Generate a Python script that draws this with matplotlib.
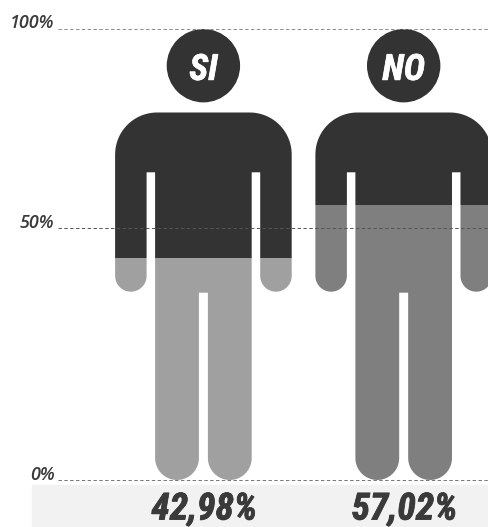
import numpy as np
import matplotlib
matplotlib.use('Agg')
import matplotlib.pyplot as plt
import matplotlib.patheffects as pe
from matplotlib.patches import Rectangle
from matplotlib.path import Path
from matplotlib.transforms import Affine2D

# Data
categories = ['SI', 'NO']
values = [42.98, 57.02]
value_labels = ['42,98%', '57,02%']
tick_values = [0, 50, 100]
tick_labels = ['0%', '50%', '100%']

# The pictogram scale is not linear: percent -> height above the baseline
scale_percent = [0, 42.98, 50, 57.02, 100]
scale_height = [0, 222.5, 252.5, 275, 451.5]

DARK = '#333333'
FILLS = ['#a0a0a0', '#7f7f7f']
TEXT = '#3a3a3a'
LINE_COLORS = ['#777777', '#555555', '#8c8c8c']


def forward(y):
    return np.interp(y, scale_percent, scale_height)


def inverse(y):
    return np.interp(y, scale_height, scale_percent)


def arc(cx, cy, r, start, end, n=24):
    t = np.radians(np.linspace(start, end, n))
    return np.column_stack([cx + r * np.cos(t), cy + r * np.sin(t)])


def person_path():
    # Right half of the body outline, mirrored for the left half
    right = np.vstack([
        [[0, 367.5]],
        arc(46.3, 325.5, 42, 90, 0),
        arc(72.55, 204.05, 15.75, 0, -180),
        [[56.8, 307.7], [48.3, 307.7]],
        arc(26.4, 21.9, 21.9, 0, -180),
        [[4.5, 187.3], [0, 187.3]],
    ])
    left = right[::-1] * [-1, 1]
    body = np.vstack([right, left[1:]])
    codes = [Path.MOVETO] + [Path.LINETO] * (len(body) - 2) + [Path.CLOSEPOLY]
    head = Path.circle((0, 414.3), 36.7)
    return Path.make_compound_path(Path(body, codes), head)


fig = plt.figure(figsize=(4.89, 5.27), dpi=100)
ax = fig.add_axes([58 / 489, 47 / 527, 431 / 489, 451.5 / 527])
ax.set_yscale('function', functions=(forward, inverse))
ax.set_xlim(-0.726, 1.426)
ax.set_ylim(0, 100)

# Grey strip behind the totals
fig.add_artist(Rectangle((32 / 489, 0), 457 / 489, 42 / 527,
                         transform=fig.transFigure, color='#f2f2f2', zorder=-1))

x = np.arange(len(categories))
shape = person_path()
fig.canvas.draw()
for i, (value, fill) in enumerate(zip(values, FILLS)):
    cx, y0 = ax.transData.transform((x[i], 0))
    clip = Affine2D().translate(cx, y0)
    lower = ax.bar(x[i], value, width=0.95, color=fill, zorder=1)
    upper = ax.bar(x[i], 100 - value, bottom=value, width=0.95, color=DARK, zorder=1)
    for bar in list(lower) + list(upper):
        bar.set_clip_path(shape, clip)

# Dashed reference lines run over the figures
ax.set_yticks(tick_values, tick_labels)
ax.minorticks_off()
ax.yaxis.grid(True, linewidth=0.7, linestyle=(0, (3.5, 2.5)), zorder=3)
ax.set_axisbelow(False)
for line, color in zip(ax.get_ygridlines(), LINE_COLORS):
    line.set_clip_on(False)
    line.set_color(color)
ax.xaxis.set_visible(False)
for spine in ax.spines.values():
    spine.set_visible(False)
ax.tick_params(axis='y', length=0, pad=2.5)
for label in ax.get_yticklabels():
    label.set_family('Open Sans')
    label.set_style('italic')
    label.set_weight('semibold')
    label.set_fontsize(13)
    label.set_color(TEXT)
    label.set_verticalalignment('baseline')

for i, name in enumerate(categories):
    head_text = ax.annotate(name, xy=(x[i], 100), xytext=(0, -37), textcoords='offset points',
                            ha='center', va='baseline', color='white', fontsize=26,
                            family='Roboto Condensed', weight='bold', style='italic',
                            zorder=5)
    head_text.set_path_effects([pe.withStroke(linewidth=0.5, foreground='white')])
    total = ax.annotate(value_labels[i], xy=(x[i], 0), xytext=(0.5, -28.5), textcoords='offset points',
                        ha='center', va='baseline', color=TEXT, fontsize=27,
                        family='Roboto Condensed', weight='bold', style='italic',
                        annotation_clip=False)
    total.set_path_effects([pe.withStroke(linewidth=0.6, foreground=TEXT)])

fig.savefig('out.png', dpi=100)
